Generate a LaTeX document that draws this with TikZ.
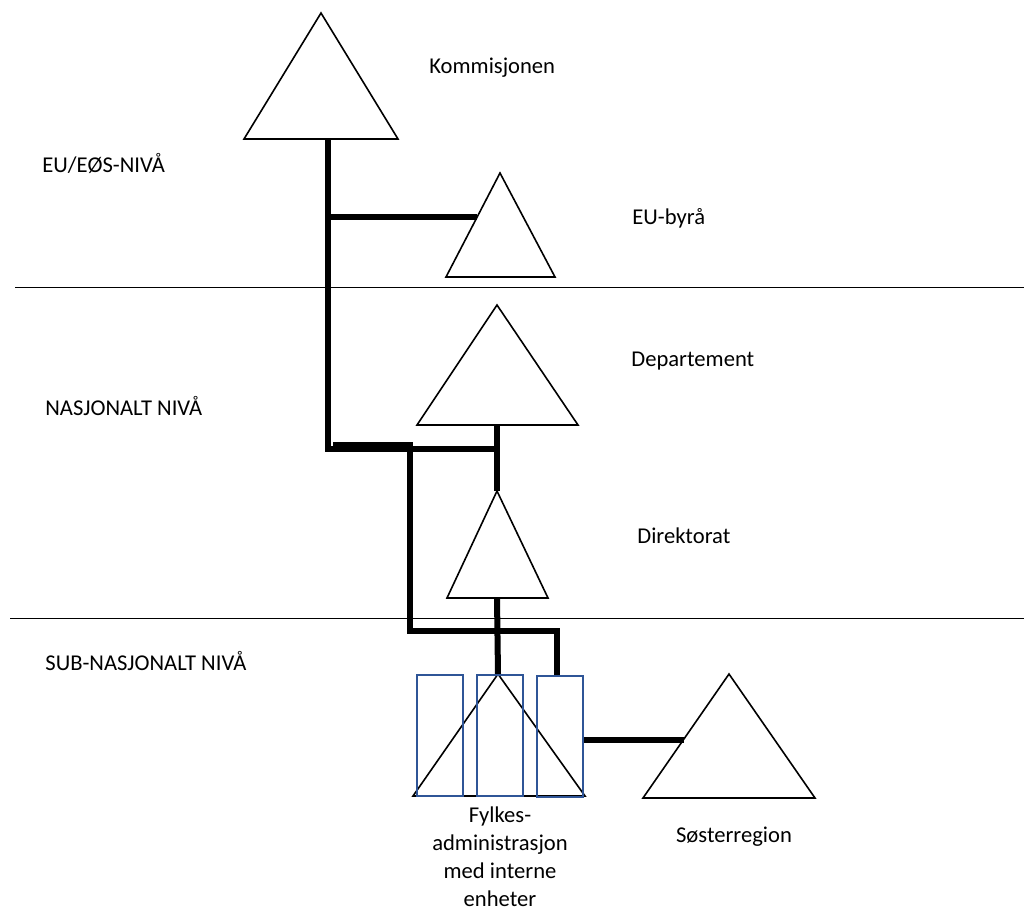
\documentclass[tikz,border=0pt]{standalone}
\usepackage{fontspec}
\setmainfont{Carlito}
\usepackage{xcolor}
\usepackage{tikz}
\usetikzlibrary{positioning}

\definecolor{enhetblue}{RGB}{47,85,151}

\tikzset{
  tri/.style={draw, line width=0.8pt},
  link/.style={line width=3pt},
  enhet/.style={draw=enhetblue, line width=0.8pt},
  nivaline/.style={line width=0.5pt},
  lbl/.style={font=\fontsize{11.3}{14}\selectfont, inner sep=0pt},
}

\begin{document}
\begin{tikzpicture}[x=0.5pt, y=-0.5pt]
\useasboundingbox (0,0) rectangle (1024,912);

% Level separators
\draw[nivaline] (15,287) -- (1024,287);
\draw[nivaline] (10,618) -- (1024,618);

% Level names
\node[lbl, anchor=base west] (eunivaa) at (42,172) {EU/EØS-NIVÅ};
\node[lbl, anchor=base west] (nasnivaa) at (45,415) {NASJONALT NIVÅ};
\node[lbl, anchor=base west] (subnivaa) at (45,670) {SUB-NASJONALT NIVÅ};

% Triangle corners
\coordinate (komTop) at (321,13);
\coordinate (komL) at (244,139);
\coordinate (komR) at (398,139);
\coordinate (byraTop) at (500,173);
\coordinate (byraL) at (446,277);
\coordinate (byraR) at (555,277);
\coordinate (depTop) at (497,305);
\coordinate (depL) at (417,425);
\coordinate (depR) at (578,425);
\coordinate (dirTop) at (497,491);
\coordinate (dirL) at (447,598);
\coordinate (dirR) at (548,598);
\coordinate (fylTop) at (498,674);
\coordinate (fylL) at (413,796);
\coordinate (fylR) at (585,796);
\coordinate (sosTop) at (729,674);
\coordinate (sosL) at (643,798);
\coordinate (sosR) at (815,798);

% Connection points
\coordinate (komFoot) at (328,139);
\coordinate (byraSide) at (477,217);
\coordinate (depFoot) at (497,425);
\coordinate (dirFoot) at (497,598);
\coordinate (enhetTop) at (557,676);
\coordinate (enhetSide) at (583,740);
\coordinate (sosSide) at (684,740);

% Thick lines
\draw[link] (komFoot) |- (byraSide);
\draw[link] (komFoot) |- (498,449);
\draw[link] (333,445) -- (410,445) |- (557,631) -- (enhetTop);
\draw[link] (depFoot) -- (dirTop);
\draw[link] (dirFoot) -- (fylTop);
\draw[link] (enhetSide) -- (sosSide);

% Triangles
\draw[tri] (komTop) -- (komL) -- (komR) -- cycle;
\draw[tri] (byraTop) -- (byraL) -- (byraR) -- cycle;
\draw[tri] (depTop) -- (depL) -- (depR) -- cycle;
\draw[tri] (dirTop) -- (dirL) -- (dirR) -- cycle;
\draw[tri] (fylTop) -- (fylL) -- (fylR) -- cycle;
\draw[tri] (sosTop) -- (sosL) -- (sosR) -- cycle;

% Internal units
\draw[enhet] (417,675) rectangle (463,796);
\draw[enhet] (477,675) rectangle (523,796);
\draw[enhet] (537,676) rectangle (583,797);

% Labels
\node[lbl, anchor=base west] (kom) at (429,73) {Kommisjonen};
\node[lbl, anchor=base west] (byra) at (632,224) {EU-byrå};
\node[lbl, anchor=base west] (dep) at (631,366) {Departement};
\node[lbl, anchor=base west] (dir) at (637,543) {Direktorat};
\node[lbl, anchor=north, align=center] (fyl) at (500,806)
  {Fylkes-\\administrasjon\\med interne\\enheter};
\node[lbl, anchor=base] (sos) at (734,842) {Søsterregion};

\end{tikzpicture}
\end{document}
